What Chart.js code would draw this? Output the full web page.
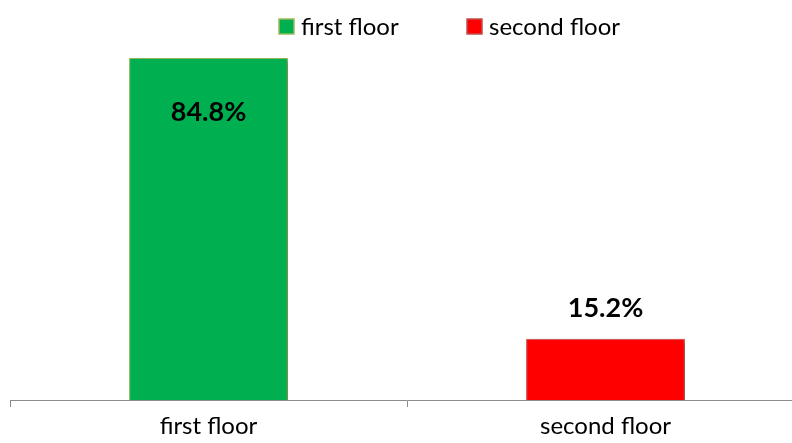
<!DOCTYPE html>
<html>
<head>
<meta charset="utf-8">
<script src="https://cdn.jsdelivr.net/npm/chart.js@4/dist/chart.umd.min.js"></script>
<style>
  html, body { margin: 0; padding: 0; background: #ffffff; overflow: hidden; }
  #wrap { position: relative; width: 806px; height: 443px; }
</style>
</head>
<body>
<div id="wrap"><canvas id="chart"></canvas></div>
<script>
// Share of units by floor (percent)
const categories = ['first floor', 'second floor'];
const shares = [84.8, 15.2];
const barColors = ['#00B050', '#FF0000'];
const barBorders = ['#9BBB59', '#C0504D'];
const valueLabels = ['84.8%', '15.2%'];

const FONT = 'Lato, "Open Sans", sans-serif';

// Legend listing each category with its bar colour
const floorLegend = {
  id: 'floorLegend',
  afterDraw(chart) {
    const ctx = chart.ctx;
    const ds = chart.data.datasets[0];
    const startX = [279, 467];
    ctx.save();
    ctx.font = '24px ' + FONT;
    ctx.textBaseline = 'middle';
    ctx.textAlign = 'left';
    chart.data.labels.forEach((lab, i) => {
      const x = startX[i], y = 19;
      ctx.fillStyle = ds.backgroundColor[i];
      ctx.strokeStyle = ds.borderColor[i];
      ctx.lineWidth = 1.5;
      ctx.fillRect(x, y, 15, 15);
      ctx.strokeRect(x, y, 15, 15);
      ctx.fillStyle = '#000000';
      ctx.fillText(lab, x + 22, y + 8);
    });
    ctx.restore();
  }
};

// Value labels: inside the top of tall bars, above short ones
const valueLabelPlugin = {
  id: 'valueLabelPlugin',
  afterDatasetsDraw(chart) {
    const ctx = chart.ctx;
    const meta = chart.getDatasetMeta(0);
    ctx.save();
    ctx.font = 'bold 27px ' + FONT;
    ctx.fillStyle = '#000000';
    ctx.textAlign = 'center';
    ctx.textBaseline = 'middle';
    meta.data.forEach((bar, i) => {
      const h = bar.base - bar.y;
      const y = h > 150 ? bar.y + 54 : bar.y - 30;
      ctx.fillText(valueLabels[i], bar.x, y);
    });
    ctx.restore();
  }
};

// Soft drop shadow behind the bars
const barShadow = {
  id: 'barShadow',
  beforeDatasetsDraw(chart) {
    const ctx = chart.ctx;
    ctx.save();
    ctx.shadowColor = 'rgba(0,0,0,0.35)';
    ctx.shadowBlur = 4;
    ctx.shadowOffsetX = 2;
    ctx.shadowOffsetY = 2;
  },
  afterDatasetsDraw(chart) {
    chart.ctx.restore();
  }
};

new Chart(document.getElementById('chart'), {
  type: 'bar',
  data: {
    labels: categories,
    datasets: [{
      data: shares,
      backgroundColor: barColors,
      borderColor: barBorders,
      borderWidth: 1,
      categoryPercentage: 0.8,
      barPercentage: 0.5
    }]
  },
  options: {
    responsive: true,
    maintainAspectRatio: false,
    devicePixelRatio: 1,
    animation: false,
    layout: { padding: { left: 10, right: 2, top: 37, bottom: 0 } },
    plugins: {
      legend: { display: false },
      tooltip: { enabled: false }
    },
    scales: {
      x: {
        offset: true,
        border: { display: true, color: '#8C8C8C', width: 1 },
        grid: {
          display: true,
          offset: true,
          drawOnChartArea: false,
          drawTicks: true,
          tickLength: 7,
          color: '#8C8C8C'
        },
        ticks: {
          color: '#000000',
          font: { family: FONT, size: 24 },
          padding: 5,
          maxRotation: 0
        },
        afterFit(scale) { scale.height = 43; }
      },
      y: {
        display: false,
        min: 0,
        max: 90
      }
    }
  },
  plugins: [barShadow, valueLabelPlugin, floorLegend]
});
</script>
</body>
</html>
